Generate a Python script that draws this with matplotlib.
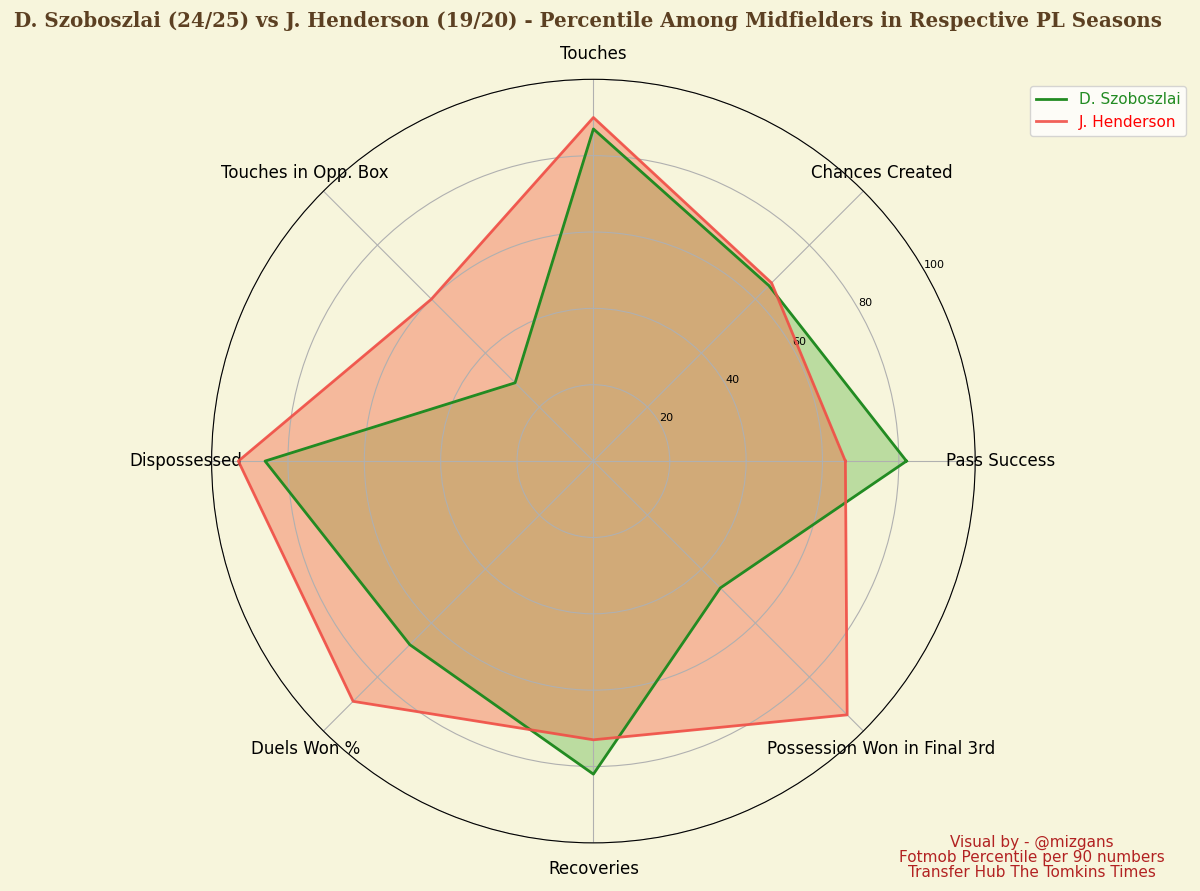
import numpy as np
import matplotlib
matplotlib.use("Agg")
import matplotlib.pyplot as plt

categories = ["Pass Success", "Chances Created", "Touches", "Touches in Opp. Box",
              "Dispossessed", "Duels Won %", "Recoveries", "Possession Won in Final 3rd"]
szoboszlai = [82, 65, 87, 29, 86, 68, 82, 47]
henderson = [66, 66, 90, 60, 93, 89, 73, 94]
rticks = [20, 40, 60, 80, 100]

bg = "#f7f5dc"
fig = plt.figure(figsize=(12, 8.91), dpi=100, facecolor=bg)
ax = fig.add_axes([0.176, 0.054, 0.637, 0.857], polar=True, facecolor=bg)
ang = np.linspace(0, 2*np.pi, len(categories), endpoint=False)
a = np.append(ang, ang[0])

s = np.append(szoboszlai, szoboszlai[0])
h = np.append(henderson, henderson[0])
ax.fill(a, s, color="#4caf30", alpha=0.35)
ax.plot(a, s, color="#228b22", lw=2, label="D. Szoboszlai")
ax.fill(a, h, color="#f4603c", alpha=0.4)
ax.plot(a, h, color="#f05048", lw=2, alpha=0.9, label="J. Henderson")

ax.set_ylim(0, 100)
ax.set_yticks(rticks)
ax.set_yticklabels([str(t) for t in rticks], fontsize=8)
ax.set_rlabel_position(30)
ax.set_xticks(ang)
ax.set_xticklabels(categories, fontsize=12)
ax.tick_params(axis="x", pad=8)
ax.grid(color="#b0b0b0", lw=0.8)

h_, l_ = ax.get_legend_handles_labels()
leg = fig.legend(h_, l_, loc="upper right", bbox_to_anchor=(0.995, 0.912), fontsize=11, facecolor="white")
for t, c in zip(leg.get_texts(), ["#228b22", "red"]):
    t.set_color(c)

fig.suptitle("D. Szoboszlai (24/25) vs J. Henderson (19/20) - Percentile Among Midfielders in Respective PL Seasons",
             x=0.49, y=0.988, fontsize=14.3, fontweight="bold", family="DejaVu Serif", color="#5c4022")
fig.text(0.86, 0.012, "Visual by - @mizgans\nFotmob Percentile per 90 numbers\nTransfer Hub The Tomkins Times",
         ha="center", va="bottom", fontsize=11, color="#b22222", linespacing=1.0)
fig.savefig("out.png", facecolor=bg)
